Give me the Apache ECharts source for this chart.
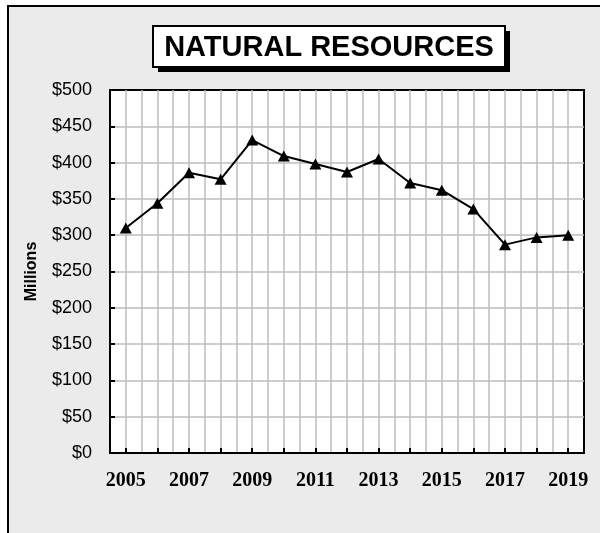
<!DOCTYPE html>
<html>
<head>
<meta charset="utf-8">
<script src="https://cdn.jsdelivr.net/npm/echarts@6/dist/echarts.min.js"></script>
<style>
  html, body { margin: 0; padding: 0; background: #fff; }
  #wrap { position: relative; width: 600px; height: 533px; overflow: hidden; background: #fff; }
  #frame { position: absolute; left: 7px; top: 5px; width: 620px; height: 620px; border: 2px solid #000; background: #ebebeb; }
  #chart { position: absolute; left: 0; top: 0; width: 600px; height: 533px; }
</style>
</head>
<body>
<div id="wrap">
  <div id="frame"></div>
  <div id="chart"></div>
</div>
<script>
const titleText = 'NATURAL RESOURCES';
const yAxisName = 'Millions';
const years = ['2005','2006','2007','2008','2009','2010','2011','2012','2013','2014','2015','2016','2017','2018','2019'];
const values = [310, 344, 386, 377, 431, 409, 398, 387, 405, 372, 362, 336, 287, 297, 300];
const yMin = 0, yMax = 500, yStep = 50;

const chart = echarts.init(document.getElementById('chart'), null, { renderer: 'canvas' });
const sans = "'Liberation Sans', Arial, sans-serif";
const serif = "'Liberation Serif', 'Times New Roman', serif";

chart.setOption({
  backgroundColor: 'transparent',
  animation: false,
  graphic: [
    { type: 'rect', shape: { x: 158, y: 31, width: 352, height: 41 }, style: { fill: '#000' }, z: 10 },
    { type: 'rect', shape: { x: 153, y: 26, width: 352, height: 41 }, style: { fill: '#fff', stroke: '#000', lineWidth: 2 }, z: 11 },
    { type: 'text', x: 329, y: 48, z: 12,
      style: { text: titleText, fill: '#000', font: "bold 29px " + sans, textAlign: 'center', textVerticalAlign: 'middle' } }
  ],
  grid: {
    left: 110, top: 90, right: 16, bottom: 80,
    show: true, backgroundColor: '#fff', borderColor: '#000', borderWidth: 2
  },
  xAxis: [
    {
      type: 'category', data: years, position: 'bottom', boundaryGap: true,
      axisLine: { show: true, lineStyle: { color: '#000', width: 2 } },
      axisTick: { show: true, inside: true, length: 5, alignWithLabel: true, interval: 0, lineStyle: { color: '#000', width: 2 } },
      axisLabel: { interval: 1, margin: 18, color: '#000', fontFamily: serif, fontWeight: 'bold', fontSize: 20 },
      splitLine: { show: false }
    },
    {
      type: 'value', position: 'bottom', min: 2004.5, max: 2019.5, interval: 0.5,
      axisLine: { show: false }, axisTick: { show: false }, axisLabel: { show: false },
      splitLine: { show: true, showMinLine: false, showMaxLine: false, lineStyle: { color: '#bdbdbd', width: 1.5 } }
    }
  ],
  yAxis: {
    type: 'value', min: yMin, max: yMax, interval: yStep,
    name: yAxisName, nameLocation: 'middle', nameRotate: 90, nameGap: 70,
    nameTextStyle: { fontFamily: sans, fontWeight: 'bold', fontSize: 16, color: '#000' },
    axisLine: { show: true, lineStyle: { color: '#000', width: 2 } },
    axisTick: { show: true, inside: true, length: 5, lineStyle: { color: '#000', width: 2 } },
    axisLabel: { margin: 18, color: '#000', fontFamily: sans, fontSize: 18, formatter: v => '$' + v },
    splitLine: { show: true, showMinLine: false, showMaxLine: false, lineStyle: { color: '#bdbdbd', width: 1.5 } }
  },
  series: [{
    type: 'line', xAxisIndex: 0, data: values,
    symbol: 'triangle', symbolSize: [12, 11], showAllSymbol: true,
    lineStyle: { color: '#000', width: 2 },
    itemStyle: { color: '#000', borderWidth: 0 },
    z: 5
  }]
});
</script>
</body>
</html>
